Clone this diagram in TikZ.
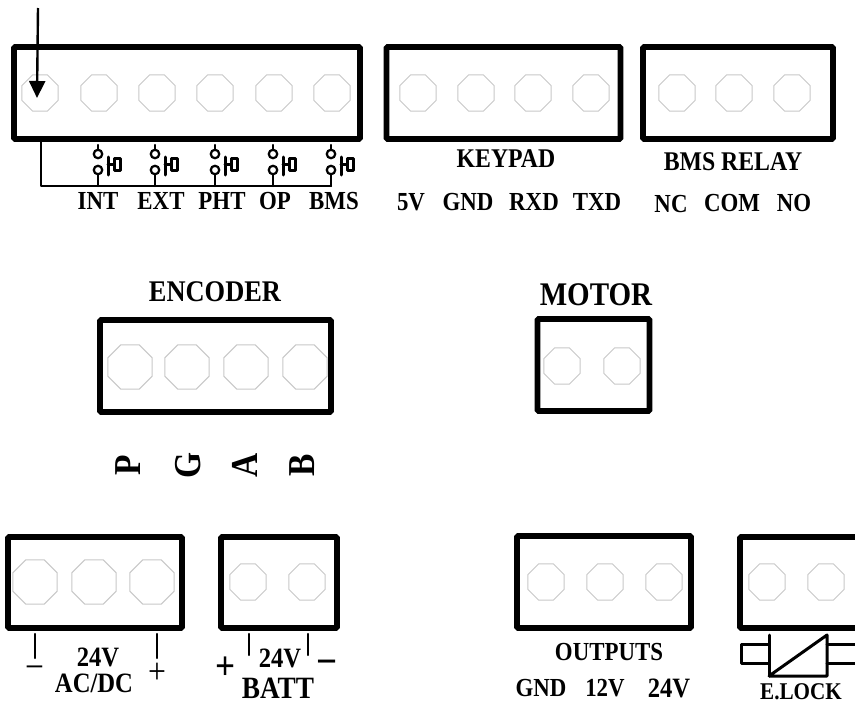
\documentclass[tikz,border=0pt]{standalone}
\usepackage{fontspec}
\setmainfont[FakeStretch=0.88]{Liberation Serif}
\usetikzlibrary{shapes.geometric,arrows.meta}
\tikzset{
  x=1pt,y=-1pt,
  term/.style={draw=black,line width=5.6pt,rounded corners=1pt,inner sep=0,rectangle},
  pin/.style={draw=black!22,line width=1pt,regular polygon,regular polygon sides=8,inner sep=0,minimum size=#1},
  pin/.default=39pt,
  lbl/.style={inner sep=0,font=\fontsize{#1}{#1}\selectfont\bfseries},
  lbl/.default=26pt,
  sign/.style={inner sep=0,font=\fontsize{#1}{#1}\selectfont},
  wire/.style={line width=2.4pt,line cap=round,line join=round},
  contact/.style={line width=3pt,line cap=round,line join=round},
  coil/.style={line width=3pt,line cap=round,line join=round},
  ring/.style={circle,draw=black,line width=2.2pt,fill=white,minimum size=8.5pt,inner sep=0},
}
\newcommand{\termbox}[5]{\node[term,minimum width=#4pt,minimum height=#5pt] (#1) at (#2,#3) {};}
\begin{document}
\begin{tikzpicture}
\useasboundingbox (0,0) rectangle (855,704);
% boxes
\termbox{inputs}{187}{93}{346}{92}
\termbox{keypad}{503.5}{93}{234}{92}
\termbox{relay}{738}{93}{190}{92}
\termbox{encoder}{215.5}{366}{231}{92}
\termbox{motor}{593.5}{365}{112}{92}
\termbox{acdc}{95}{582.5}{174}{91}
\termbox{batt}{279}{582.5}{116}{91}
\termbox{outputs}{604}{582}{174}{92}
\termbox{elock}{800}{582.5}{120}{91}
% pins
\foreach \n/\x in {1/40,2/99,3/157,4/215,5/274,6/332} \node[pin] (i\n) at (\x,93) {};
\foreach \n/\x in {1/418,2/476,3/533,4/591} \node[pin] (k\n) at (\x,93) {};
\foreach \n/\x in {1/677,2/734,3/792} \node[pin] (r\n) at (\x,93) {};
\foreach \n/\x in {1/130,2/187,3/246,4/305} \node[pin=48pt] (e\n) at (\x,367) {};
\foreach \n/\x in {1/562,2/622} \node[pin] (m\n) at (\x,366) {};
\foreach \n/\x in {1/35,2/94,3/152} \node[pin=48pt] (a\n) at (\x,582) {};
\foreach \n/\x in {1/248,2/307} \node[pin] (b\n) at (\x,582) {};
\foreach \n/\x in {1/546,2/605,3/664} \node[pin] (o\n) at (\x,582) {};
\foreach \n/\x in {1/767,2/826} \node[pin] (l\n) at (\x,582) {};
% arrow
\coordinate (arrowstart) at (38,8);
\coordinate (arrowend) at (37,98);
\draw[line width=2.4pt,-{Triangle[length=17pt,width=16pt]}] (arrowstart) -- (arrowend);
% switches
\coordinate (busstart) at (41,142);
\coordinate (buscorner) at (41,186);
\coordinate (busend) at (331,186);
\draw[wire] (busstart) -- (buscorner) -- (busend);
\foreach \n/\x in {1/98,2/155,3/215,4/273,5/331}{
  \coordinate (top\n) at (\x,145);
  \coordinate (bot\n) at (\x,186);
  \node[ring] (ua\n) at (\x,154) {};
  \node[ring] (ub\n) at (\x,170) {};
  \draw[wire] (top\n) -- (ua\n);
  \draw[wire] (ub\n) -- (bot\n);
  \draw[contact] (\x+10,157) -- (\x+10,175);
  \draw[contact] (\x+10,164) -- (\x+16,164);
  \draw[contact] (\x+16,158) -- (\x+16,170) -- (\x+22,170) -- (\x+22,158) -- cycle;
}
% labels top
\node[lbl] (tint) at (98,201) {INT};
\node[lbl] (text) at (161,201) {EXT};
\node[lbl] (tpht) at (222,201) {PHT};
\node[lbl] (top) at (275,201) {OP};
\node[lbl] (tbms) at (334,201) {BMS};
\node[lbl=27pt] (tkeypad) at (506,159) {KEYPAD};
\node[lbl] (t5v) at (411,202) {5V};
\node[lbl] (tgnd) at (468,202) {GND};
\node[lbl] (trxd) at (534,202) {RXD};
\node[lbl] (ttxd) at (597,202) {TXD};
\node[lbl=27pt] (tbmsr) at (733,162) {BMS RELAY};
\node[lbl] (tnc) at (671,204) {NC};
\node[lbl] (tcom) at (732,203) {COM};
\node[lbl] (tno) at (794,203) {NO};
% middle
\node[lbl=30pt] (tenc) at (215,292) {ENCODER};
\node[lbl=33pt] (tmotor) at (596,295) {MOTOR};
\node[lbl=38pt,rotate=90] (tp) at (128,465) {P};
\node[lbl=38pt,rotate=90] (tg) at (188,465) {G};
\node[lbl=38pt,rotate=90] (ta) at (245,465) {A};
\node[lbl=38pt,rotate=90] (tb) at (302,465) {B};
% bottom left
\coordinate (ac1) at (35,634); \coordinate (ac2) at (35,658);
\coordinate (ac3) at (157,634); \coordinate (ac4) at (157,658);
\draw[wire] (ac1) -- (ac2);
\draw[wire] (ac3) -- (ac4);
\node[lbl=28pt] (t24a) at (98,657) {24V};
\node[lbl=28pt] (tacdc) at (94,683) {AC/DC};
\node[sign=38pt] (tminusa) at (35,673) {−};
\node[sign=36pt] (tplusa) at (157,673) {+};
\coordinate (ba1) at (249,634); \coordinate (ba2) at (249,655);
\coordinate (ba3) at (308,634); \coordinate (ba4) at (308,655);
\draw[wire] (ba1) -- (ba2);
\draw[wire] (ba3) -- (ba4);
\node[lbl=28pt] (t24b) at (280,658) {24V};
\node[lbl=31pt] (tbatt) at (278,688) {BATT};
\node[lbl=40pt] (tplusb) at (226,668) {+};
\node[lbl=42pt] (tminusb) at (327,668) {−};
% bottom right
\node[lbl=26pt] (touts) at (609,652) {OUTPUTS};
\node[lbl] (tognd) at (541,688) {GND};
\node[lbl] (to12) at (605,688) {12V};
\node[lbl=28pt] (to24) at (669,688) {24V};
\node[lbl=24pt] (telock) at (801,692) {E.LOCK};
% lock coil
\coordinate (c1) at (769,676); \coordinate (c2) at (769,635);
\coordinate (c3) at (827,635); \coordinate (c4) at (827,676);
\draw[coil] (c1) -- (c2);
\draw[coil] (c1) -- (c3) -- (c4) -- (c1);
\coordinate (ll1) at (769,644); \coordinate (ll2) at (741,644);
\coordinate (ll3) at (741,663); \coordinate (ll4) at (769,663);
\draw[coil] (ll1) -- (ll2) -- (ll3) -- (ll4);
\coordinate (lr1) at (827,644); \coordinate (lr2) at (856,644);
\coordinate (lr3) at (856,663); \coordinate (lr4) at (827,663);
\draw[coil] (lr1) -- (lr2) -- (lr3) -- (lr4);
\end{tikzpicture}
\end{document}
